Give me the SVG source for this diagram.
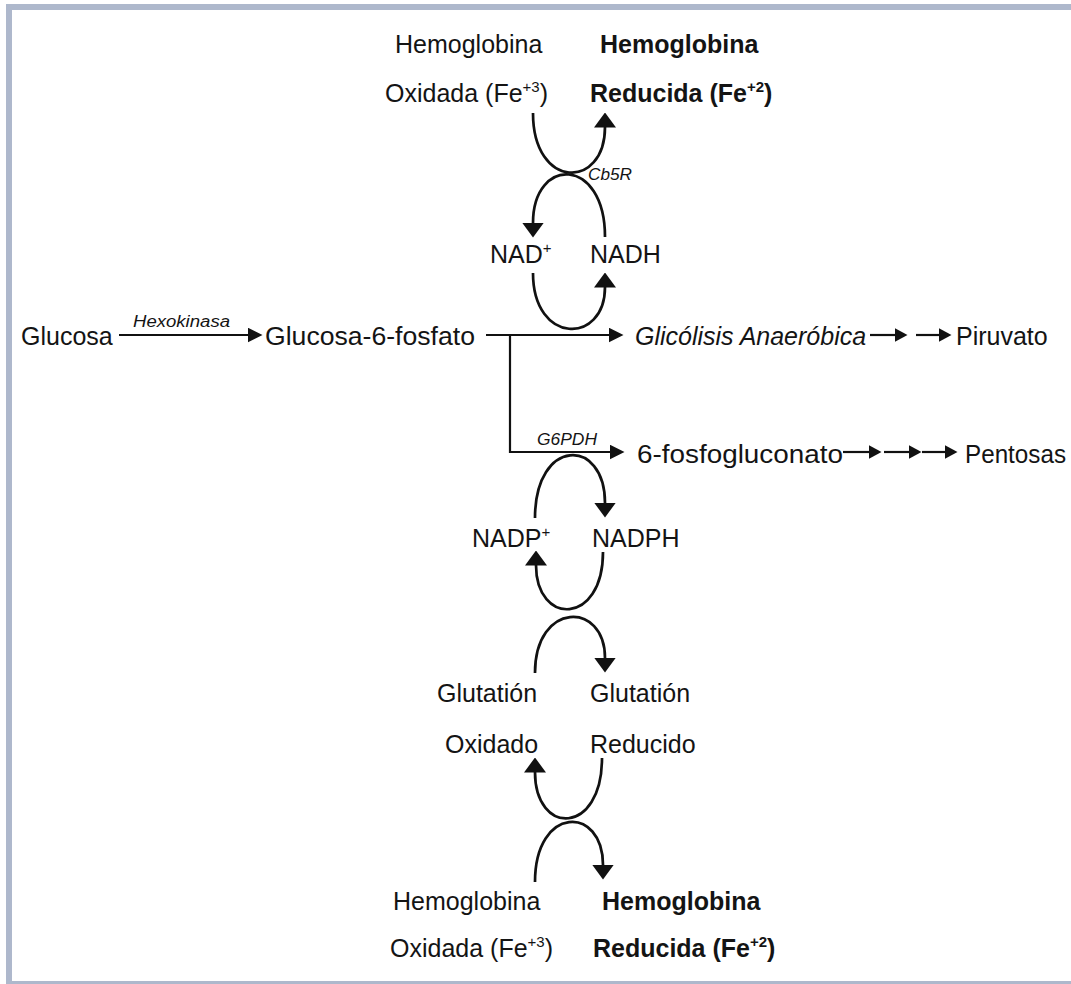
<svg xmlns="http://www.w3.org/2000/svg" width="1071" height="984" viewBox="0 0 1071 984">
<style>
text{font-family:"Liberation Sans",Arial,sans-serif;font-size:25px;fill:#141414}
.b{font-weight:bold}
.i{font-style:italic}
.enz{font-style:italic;font-size:16px}
.sup{font-size:15px}
.curve{fill:none;stroke:#111;stroke-width:2.7;marker-end:url(#big)}
.line{fill:none;stroke:#111;stroke-width:2.2}
.ar{marker-end:url(#mid)}
.ars{marker-end:url(#tiny)}
</style>
<defs>
<marker id="big" markerUnits="userSpaceOnUse" viewBox="0 0 15 22" refX="0.5" refY="11" markerWidth="15" markerHeight="22" orient="auto"><path d="M0,0 L15,11 L0,22 Z" fill="#111"/></marker>
<marker id="mid" markerUnits="userSpaceOnUse" viewBox="0 0 15 15" refX="0.5" refY="7.5" markerWidth="15" markerHeight="15" orient="auto"><path d="M0,0 L15,7.5 L0,15 Z" fill="#111"/></marker>
<marker id="tiny" markerUnits="userSpaceOnUse" viewBox="0 0 13 14" refX="0.5" refY="7" markerWidth="13" markerHeight="14" orient="auto"><path d="M0,0 L13,7 L0,14 Z" fill="#111"/></marker>
</defs>
<rect x="0" y="0" width="1071" height="984" fill="#fff"/>
<rect x="9" y="7" width="1100" height="977" fill="none" stroke="#aeb8cc" stroke-width="6"/>

<g id="connectors">
<path class="curve" d="M533,113 C533,190 605,190 605,127"/>
<path class="curve" d="M605,237 C605,156 533,156 533,223"/>
<path class="curve" d="M533,273 C533,345 605,345 605,287"/>
<path class="curve" d="M535,518 C535,437 605,437 605,503"/>
<path class="curve" d="M603,552 C603,626 536,626 536,565"/>
<path class="curve" d="M535,673 C535,601 605,601 605,658"/>
<path class="curve" d="M602,758 C602,836 535,836 535,772"/>
<path class="curve" d="M535,882 C535,805 603,805 603,865"/>
<path class="line ar" d="M119,335 H248"/>
<path class="line ar" d="M486,335 H609"/>
<path class="line ar" d="M510,335 V452 H610"/>
<path class="line ars" d="M870,335 H895"/>
<path class="line ars" d="M916,335 H939"/>
<path class="line ars" d="M843,452 H869"/>
<path class="line ars" d="M884,452 H909"/>
<path class="line ars" d="M922,452 H945"/>
<text class="enz" x="133" y="327" textLength="97" lengthAdjust="spacingAndGlyphs">Hexokinasa</text>
<text class="enz" x="588" y="180" textLength="44" lengthAdjust="spacingAndGlyphs">Cb5R</text>
<text class="enz" x="537" y="445" textLength="60" lengthAdjust="spacingAndGlyphs">G6PDH</text>
</g>

<g id="hb-ox-top"><text x="395" y="53">Hemoglobina</text><text x="385" y="102">Oxidada (Fe<tspan class="sup" dy="-10">+3</tspan><tspan dy="10">)</tspan></text></g>
<g id="hb-red-top"><text class="b" x="600" y="53">Hemoglobina</text><text class="b" x="590" y="102">Reducida (Fe<tspan class="sup" dy="-10">+2</tspan><tspan dy="10">)</tspan></text></g>
<g id="nad"><text x="490" y="263" font-size="24">NAD<tspan class="sup" dy="-10">+</tspan></text></g>
<g id="nadh"><text x="590" y="263">NADH</text></g>
<g id="glucosa"><text x="21" y="345">Glucosa</text></g>
<g id="g6p"><text x="265" y="345" textLength="210" lengthAdjust="spacingAndGlyphs">Glucosa-6-fosfato</text></g>
<g id="glicolisis"><text class="i" x="635" y="345">Glicólisis Anaeróbica</text></g>
<g id="piruvato"><text x="956" y="345">Piruvato</text></g>
<g id="fosfogluconato"><text x="637" y="463" textLength="206" lengthAdjust="spacingAndGlyphs">6-fosfogluconato</text></g>
<g id="pentosas"><text x="965" y="463" textLength="101" lengthAdjust="spacingAndGlyphs">Pentosas</text></g>
<g id="nadp"><text x="472" y="547" font-size="23">NADP<tspan class="sup" dy="-10">+</tspan></text></g>
<g id="nadph"><text x="592" y="547">NADPH</text></g>
<g id="gssg"><text x="437" y="702">Glutatión</text><text x="445" y="753">Oxidado</text></g>
<g id="gsh"><text x="590" y="702">Glutatión</text><text x="590" y="753">Reducido</text></g>
<g id="hb-ox-bot"><text x="393" y="910">Hemoglobina</text><text x="390" y="957">Oxidada (Fe<tspan class="sup" dy="-10">+3</tspan><tspan dy="10">)</tspan></text></g>
<g id="hb-red-bot"><text class="b" x="602" y="910">Hemoglobina</text><text class="b" x="593" y="957">Reducida (Fe<tspan class="sup" dy="-10">+2</tspan><tspan dy="10">)</tspan></text></g>
</svg>
